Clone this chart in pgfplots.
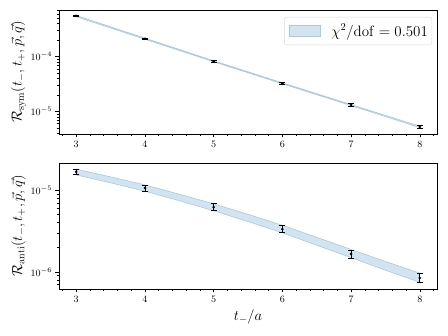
\RequirePackage{fix-cm}
\documentclass[border=0pt]{standalone}
\usepackage{amsmath,amssymb}
\usepackage{pgfplots}
\pgfplotsset{compat=1.18}

\definecolor{bandfill}{RGB}{210,228,240}
\definecolor{bandedge}{RGB}{168,202,226}

\pgfplotsset{
  ratiopanel/.style={
    scale only axis,
    width=378pt,
    xmin=2.75, xmax=8.25,
    xtick={3,...,8},
    minor xtick={2.8,3,...,8.2},
    tick align=outside,
    xtick pos=left, ytick pos=left,
    major tick length=3.5pt,
    minor tick length=2pt,
    tick style={black, line width=0.6pt},
    minor tick style={black, line width=0.5pt},
    axis line style={line width=0.7pt},
    ticklabel style={font=\fontsize{9.8}{11}\selectfont},
    ylabel style={font=\fontsize{14.5}{16}\selectfont, yshift=-2pt},
    xlabel style={font=\fontsize{14.5}{16}\selectfont},
  },
}

\begin{document}
\begin{tikzpicture}
\path (0,0) rectangle (448pt,336pt);

% top panel: symmetric ratio
\begin{axis}[
    ratiopanel,
    ymode=log,
    at={(59pt,202pt)}, anchor=south west,
    height=124pt,
    ymin=3.9e-6, ymax=7.1e-4,
    ylabel={$\mathcal{R}_{\mathrm{sym}}(t_-,t_+,\vec{p},\vec{q})$},
    legend style={at={(0.987,0.944)}, anchor=north east,
      draw=black!15, rounded corners=2pt, fill=white,
      font=\fontsize{15}{17}\selectfont,
      inner xsep=2pt, inner ysep=5pt},
    legend cell align=left,
    legend image code/.code={
      \path[draw=none, fill=none] (-3pt,0pt) -- (40pt,0pt);
      \draw[#1, sharp corners] (0pt,-5.5pt) rectangle (31pt,5.5pt);},
]
\addplot[fill=bandfill, draw=bandedge, line width=0.6pt] coordinates {
    (3,5.649e-4) (4,2.178e-4) (5,8.433e-5) (6,3.342e-5) (7,1.343e-5) (8,5.408e-6)
    (8,5.093e-6) (7,1.282e-5) (6,3.206e-5) (5,8.091e-5) (4,2.080e-4) (3,5.346e-4)
} -- cycle;
\addlegendentry{$\chi^2/\mathrm{dof}=0.501$}

\addplot[black, only marks, mark=*, mark size=1.1pt,
    error bars/y dir=both, error bars/y explicit,
    error bars/error bar style={black, line width=0.8pt},
    error bars/error mark options={rotate=90, black, mark size=3pt, line width=0.9pt},
    forget plot]
coordinates {
    (3,5.56e-4) +- (0,1.5e-5)
    (4,2.12e-4) +- (0,6e-6)
    (5,8.22e-5) +- (0,2.5e-6)
    (6,3.27e-5) +- (0,1.2e-6)
    (7,1.32e-5) +- (0,6e-7)
    (8,5.27e-6) +- (0,4e-7)
};
\end{axis}

% bottom panel: antisymmetric ratio
\begin{axis}[
    ratiopanel,
    ymode=log,
    at={(59pt,47pt)}, anchor=south west,
    height=126pt,
    ymin=6.2e-7, ymax=2.14e-5,
    xlabel={$t_-/a$},
    ylabel={$\mathcal{R}_{\mathrm{anti}}(t_-,t_+,\vec{p},\vec{q})$},
]
\addplot[fill=bandfill, draw=bandedge, line width=0.6pt] coordinates {
    (3,1.799e-5) (3.5,1.450e-5) (4,1.156e-5) (4.5,8.913e-6) (5,6.792e-6)
    (5.5,5.058e-6) (6,3.715e-6) (6.5,2.648e-6) (7,1.884e-6) (7.5,1.343e-6) (8,9.683e-7)
    (8,7.482e-7) (7.5,1.052e-6) (7,1.496e-6) (6.5,2.123e-6) (6,3.006e-6)
    (5.5,4.130e-6) (5,5.598e-6) (4.5,7.413e-6) (4,9.705e-6) (3.5,1.226e-5) (3,1.531e-5)
} -- cycle;

\addplot[black, only marks, mark=*, mark size=1.1pt,
    error bars/y dir=both, error bars/y explicit,
    error bars/error bar style={black, line width=0.8pt},
    error bars/error mark options={rotate=90, black, mark size=3pt, line width=0.9pt}]
coordinates {
    (3,1.67e-5) +- (0,1.3e-6)
    (4,1.06e-5) +- (0,9e-7)
    (5,6.2e-6) +- (0,6e-7)
    (6,3.34e-6) +- (0,3.3e-7)
    (7,1.66e-6) +- (0,1.8e-7)
    (8,8.45e-7) +- (0,1.1e-7)
};
\end{axis}
\end{tikzpicture}
\end{document}
